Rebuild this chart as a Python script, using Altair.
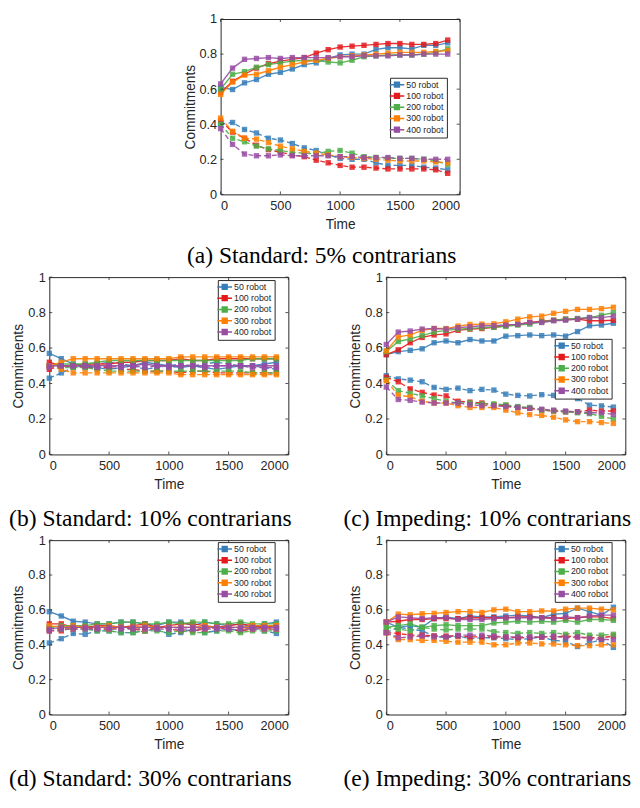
import altair as alt
import pandas as pd

TIME = [0, 100, 200, 300, 400, 500, 600, 700, 800, 900, 1000, 1100, 1200, 1300, 1400, 1500, 1600, 1700, 1800, 1900]
ROBOTS = ["50 robot", "100 robot", "200 robot", "300 robot", "400 robot"]
COLORS = ["#377eb8", "#e41a1c", "#4daf4a", "#ff7f00", "#984ea3"]
X_TICKS = [0, 500, 1000, 1500, 2000]
Y_TICKS = [0, 0.2, 0.4, 0.6, 0.8, 1]

# (a) Standard: 5% contrarians
A_UP_50 = [0.61, 0.598, 0.636, 0.655, 0.685, 0.696, 0.715, 0.74, 0.75, 0.775, 0.795, 0.80, 0.80, 0.827, 0.836, 0.836, 0.83, 0.85, 0.85, 0.864]
A_UP_100 = [0.58, 0.645, 0.685, 0.72, 0.745, 0.76, 0.77, 0.78, 0.805, 0.825, 0.84, 0.845, 0.85, 0.855, 0.86, 0.86, 0.855, 0.855, 0.86, 0.88]
A_UP_200 = [0.60, 0.685, 0.70, 0.725, 0.74, 0.75, 0.76, 0.765, 0.765, 0.755, 0.75, 0.765, 0.785, 0.79, 0.795, 0.795, 0.795, 0.80, 0.81, 0.83]
A_UP_300 = [0.57, 0.64, 0.68, 0.685, 0.705, 0.725, 0.74, 0.755, 0.765, 0.775, 0.785, 0.79, 0.795, 0.80, 0.805, 0.81, 0.81, 0.81, 0.815, 0.82]
A_UP_400 = [0.63, 0.72, 0.77, 0.775, 0.78, 0.775, 0.78, 0.78, 0.78, 0.78, 0.785, 0.785, 0.79, 0.79, 0.79, 0.795, 0.795, 0.80, 0.80, 0.80]
A_LO_50 = [0.40, 0.41, 0.37, 0.35, 0.32, 0.31, 0.29, 0.265, 0.25, 0.225, 0.205, 0.20, 0.20, 0.18, 0.165, 0.165, 0.165, 0.155, 0.15, 0.14]
A_LO_100 = [0.42, 0.355, 0.32, 0.28, 0.255, 0.24, 0.225, 0.215, 0.195, 0.18, 0.165, 0.155, 0.155, 0.15, 0.145, 0.145, 0.145, 0.145, 0.14, 0.12]
A_LO_200 = [0.40, 0.32, 0.30, 0.275, 0.26, 0.25, 0.24, 0.235, 0.23, 0.245, 0.25, 0.235, 0.215, 0.21, 0.205, 0.205, 0.205, 0.20, 0.19, 0.17]
A_LO_300 = [0.435, 0.36, 0.32, 0.315, 0.295, 0.275, 0.26, 0.245, 0.235, 0.225, 0.215, 0.21, 0.205, 0.20, 0.195, 0.19, 0.19, 0.19, 0.185, 0.18]
A_LO_400 = [0.375, 0.285, 0.23, 0.22, 0.22, 0.225, 0.22, 0.22, 0.22, 0.22, 0.215, 0.215, 0.21, 0.21, 0.21, 0.205, 0.205, 0.20, 0.20, 0.20]

# (b) Standard: 10% contrarians
B_UP_50 = [0.57, 0.54, 0.51, 0.50, 0.49, 0.48, 0.49, 0.50, 0.52, 0.51, 0.50, 0.49, 0.50, 0.49, 0.48, 0.49, 0.50, 0.50, 0.51, 0.52]
B_UP_100 = [0.52, 0.50, 0.50, 0.51, 0.51, 0.51, 0.52, 0.52, 0.53, 0.53, 0.53, 0.54, 0.53, 0.53, 0.54, 0.54, 0.54, 0.54, 0.54, 0.54]
B_UP_200 = [0.50, 0.51, 0.51, 0.51, 0.52, 0.53, 0.53, 0.53, 0.53, 0.53, 0.53, 0.53, 0.53, 0.53, 0.53, 0.53, 0.53, 0.54, 0.54, 0.54]
B_UP_300 = [0.50, 0.52, 0.54, 0.54, 0.54, 0.54, 0.54, 0.54, 0.54, 0.54, 0.54, 0.55, 0.55, 0.55, 0.55, 0.55, 0.55, 0.55, 0.55, 0.55]
B_UP_400 = [0.50, 0.50, 0.50, 0.50, 0.50, 0.50, 0.50, 0.50, 0.51, 0.50, 0.50, 0.50, 0.50, 0.50, 0.50, 0.50, 0.50, 0.50, 0.50, 0.50]
B_LO_50 = [0.43, 0.46, 0.49, 0.50, 0.51, 0.52, 0.51, 0.50, 0.48, 0.49, 0.50, 0.51, 0.50, 0.51, 0.52, 0.51, 0.50, 0.50, 0.49, 0.48]
B_LO_100 = [0.48, 0.50, 0.50, 0.49, 0.49, 0.49, 0.48, 0.48, 0.47, 0.47, 0.47, 0.46, 0.47, 0.47, 0.46, 0.46, 0.46, 0.46, 0.46, 0.46]
B_LO_200 = [0.50, 0.49, 0.49, 0.49, 0.48, 0.47, 0.47, 0.47, 0.47, 0.47, 0.47, 0.47, 0.47, 0.47, 0.47, 0.47, 0.47, 0.46, 0.46, 0.46]
B_LO_300 = [0.50, 0.48, 0.46, 0.46, 0.46, 0.46, 0.46, 0.46, 0.46, 0.46, 0.46, 0.45, 0.45, 0.45, 0.45, 0.45, 0.45, 0.45, 0.45, 0.45]
B_LO_400 = [0.49, 0.50, 0.50, 0.50, 0.49, 0.50, 0.49, 0.50, 0.49, 0.50, 0.49, 0.50, 0.50, 0.49, 0.50, 0.50, 0.50, 0.49, 0.49, 0.49]

# (c) Impeding: 10% contrarians
C_UP_50 = [0.563, 0.58, 0.587, 0.596, 0.63, 0.64, 0.63, 0.648, 0.64, 0.64, 0.667, 0.67, 0.674, 0.67, 0.674, 0.667, 0.693, 0.726, 0.73, 0.74]
C_UP_100 = [0.563, 0.59, 0.63, 0.66, 0.674, 0.68, 0.70, 0.707, 0.71, 0.717, 0.726, 0.735, 0.744, 0.752, 0.757, 0.763, 0.763, 0.754, 0.754, 0.757]
C_UP_200 = [0.58, 0.637, 0.652, 0.67, 0.69, 0.70, 0.707, 0.71, 0.715, 0.717, 0.722, 0.73, 0.735, 0.748, 0.757, 0.763, 0.767, 0.772, 0.785, 0.80]
C_UP_300 = [0.585, 0.663, 0.674, 0.70, 0.71, 0.71, 0.724, 0.733, 0.735, 0.737, 0.748, 0.763, 0.776, 0.78, 0.796, 0.807, 0.818, 0.818, 0.822, 0.83]
C_UP_400 = [0.62, 0.69, 0.696, 0.707, 0.71, 0.707, 0.715, 0.72, 0.726, 0.726, 0.73, 0.733, 0.744, 0.744, 0.754, 0.757, 0.763, 0.772, 0.772, 0.78]
C_LO_50 = [0.444, 0.426, 0.419, 0.41, 0.378, 0.367, 0.374, 0.36, 0.367, 0.363, 0.34, 0.333, 0.33, 0.337, 0.333, 0.34, 0.315, 0.278, 0.274, 0.267]
C_LO_100 = [0.435, 0.41, 0.37, 0.35, 0.335, 0.33, 0.30, 0.295, 0.29, 0.28, 0.275, 0.265, 0.26, 0.25, 0.245, 0.24, 0.24, 0.25, 0.245, 0.245]
C_LO_200 = [0.42, 0.36, 0.345, 0.33, 0.315, 0.30, 0.29, 0.29, 0.285, 0.285, 0.28, 0.27, 0.265, 0.25, 0.245, 0.24, 0.235, 0.23, 0.215, 0.20]
C_LO_300 = [0.415, 0.335, 0.325, 0.30, 0.29, 0.29, 0.275, 0.265, 0.265, 0.265, 0.25, 0.235, 0.225, 0.22, 0.21, 0.195, 0.185, 0.185, 0.18, 0.175]
C_LO_400 = [0.38, 0.31, 0.305, 0.295, 0.29, 0.29, 0.29, 0.28, 0.275, 0.275, 0.27, 0.265, 0.26, 0.255, 0.25, 0.245, 0.24, 0.235, 0.235, 0.225]

# (d) Standard: 30% contrarians
D_UP_50 = [0.59, 0.565, 0.535, 0.53, 0.52, 0.52, 0.53, 0.53, 0.52, 0.51, 0.53, 0.53, 0.51, 0.53, 0.52, 0.51, 0.52, 0.50, 0.52, 0.53]
D_UP_100 = [0.52, 0.52, 0.50, 0.50, 0.51, 0.51, 0.50, 0.51, 0.52, 0.50, 0.51, 0.52, 0.52, 0.51, 0.50, 0.51, 0.52, 0.51, 0.50, 0.51]
D_UP_200 = [0.50, 0.51, 0.51, 0.51, 0.52, 0.52, 0.53, 0.53, 0.52, 0.52, 0.53, 0.52, 0.53, 0.53, 0.52, 0.52, 0.53, 0.52, 0.52, 0.52]
D_UP_300 = [0.51, 0.50, 0.51, 0.50, 0.50, 0.51, 0.50, 0.50, 0.51, 0.50, 0.50, 0.50, 0.50, 0.51, 0.50, 0.50, 0.50, 0.51, 0.51, 0.51]
D_UP_400 = [0.49, 0.50, 0.50, 0.50, 0.50, 0.50, 0.50, 0.50, 0.50, 0.50, 0.50, 0.50, 0.50, 0.50, 0.50, 0.50, 0.50, 0.50, 0.50, 0.50]
D_LO_50 = [0.41, 0.435, 0.465, 0.46, 0.48, 0.48, 0.47, 0.47, 0.48, 0.49, 0.46, 0.47, 0.49, 0.47, 0.48, 0.49, 0.48, 0.50, 0.48, 0.465]
D_LO_100 = [0.48, 0.48, 0.50, 0.50, 0.49, 0.49, 0.50, 0.49, 0.48, 0.50, 0.49, 0.48, 0.48, 0.49, 0.50, 0.49, 0.48, 0.49, 0.50, 0.49]
D_LO_200 = [0.50, 0.49, 0.49, 0.49, 0.48, 0.48, 0.47, 0.47, 0.48, 0.48, 0.47, 0.48, 0.47, 0.47, 0.48, 0.48, 0.47, 0.48, 0.48, 0.48]
D_LO_300 = [0.49, 0.50, 0.49, 0.50, 0.50, 0.49, 0.50, 0.50, 0.49, 0.50, 0.50, 0.50, 0.50, 0.49, 0.50, 0.50, 0.50, 0.49, 0.49, 0.49]
D_LO_400 = [0.48, 0.49, 0.49, 0.49, 0.49, 0.49, 0.49, 0.49, 0.49, 0.49, 0.49, 0.49, 0.49, 0.49, 0.49, 0.49, 0.49, 0.49, 0.49, 0.49]

# (e) Impeding: 30% contrarians
E_UP_50 = [0.53, 0.50, 0.51, 0.50, 0.55, 0.56, 0.55, 0.565, 0.56, 0.56, 0.565, 0.57, 0.565, 0.555, 0.575, 0.58, 0.61, 0.59, 0.57, 0.615]
E_UP_100 = [0.53, 0.535, 0.545, 0.545, 0.55, 0.55, 0.55, 0.555, 0.555, 0.555, 0.555, 0.56, 0.56, 0.555, 0.555, 0.55, 0.555, 0.56, 0.56, 0.55]
E_UP_200 = [0.50, 0.51, 0.52, 0.50, 0.51, 0.515, 0.51, 0.51, 0.51, 0.525, 0.53, 0.535, 0.53, 0.535, 0.53, 0.54, 0.53, 0.545, 0.545, 0.54]
E_UP_300 = [0.53, 0.576, 0.572, 0.578, 0.58, 0.585, 0.59, 0.59, 0.585, 0.60, 0.604, 0.59, 0.59, 0.594, 0.594, 0.604, 0.61, 0.61, 0.604, 0.60]
E_UP_400 = [0.53, 0.56, 0.555, 0.55, 0.555, 0.555, 0.545, 0.545, 0.545, 0.55, 0.555, 0.555, 0.555, 0.555, 0.55, 0.56, 0.555, 0.565, 0.57, 0.57]
E_LO_50 = [0.47, 0.50, 0.49, 0.48, 0.45, 0.44, 0.45, 0.435, 0.44, 0.44, 0.435, 0.43, 0.435, 0.445, 0.425, 0.42, 0.39, 0.41, 0.43, 0.385]
E_LO_100 = [0.47, 0.465, 0.455, 0.455, 0.45, 0.45, 0.45, 0.445, 0.445, 0.445, 0.445, 0.44, 0.44, 0.445, 0.445, 0.45, 0.445, 0.44, 0.44, 0.45]
E_LO_200 = [0.50, 0.49, 0.48, 0.50, 0.49, 0.485, 0.49, 0.49, 0.49, 0.475, 0.47, 0.465, 0.47, 0.465, 0.47, 0.46, 0.47, 0.455, 0.455, 0.46]
E_LO_300 = [0.47, 0.43, 0.43, 0.425, 0.425, 0.42, 0.415, 0.415, 0.415, 0.40, 0.40, 0.41, 0.41, 0.405, 0.405, 0.40, 0.395, 0.395, 0.40, 0.40]
E_LO_400 = [0.47, 0.44, 0.445, 0.45, 0.445, 0.445, 0.455, 0.455, 0.455, 0.45, 0.445, 0.445, 0.445, 0.445, 0.45, 0.44, 0.445, 0.435, 0.43, 0.43]

W = 244
LEGEND_SYMBOL = "M-2.14,0H2.14M-0.71,-0.71H0.71V-0.24H-0.71V0.24H0.71V0.71H-0.71Z"
AX_COLOR = "#262626"


def panel(up, lo, caption, lx, ly, H, cap_offset):
    rows = []
    for r, u, l in zip(ROBOTS, up, lo):
        for t, vu, vl in zip(TIME, u, l):
            rows.append({"t": t, "robot": r, "v": vu, "kind": "up"})
            rows.append({"t": t, "robot": r, "v": vl, "kind": "lo"})
    df = pd.DataFrame(rows)
    xs = alt.Scale(domain=[0, 2000], nice=False)
    ys = alt.Scale(domain=[0, 1], nice=False)
    xaxis = alt.Axis(values=X_TICKS, title="Time", format="d", labelOverlap=False)
    yaxis = alt.Axis(values=Y_TICKS, title="Commitments", format="~g", labelOverlap=False)
    x = alt.X("t:Q", scale=xs, axis=xaxis)
    y = alt.Y("v:Q", scale=ys, axis=yaxis)
    cscale = alt.Scale(domain=ROBOTS, range=COLORS)
    legend = alt.Legend(
        title=None, orient="none", legendX=lx, legendY=ly,
        symbolType=LEGEND_SYMBOL, symbolSize=49, symbolStrokeWidth=1.5,
        labelFont="Liberation Sans", labelFontSize=9, labelColor=AX_COLOR,
        strokeColor=AX_COLOR, fillColor="white", padding=2.5,
        rowPadding=0.5, labelOffset=5, symbolOpacity=1,
    )
    color = alt.Color("robot:N", scale=cscale, legend=legend)
    base = alt.Chart(df)
    lo_lines = base.transform_filter(alt.datum.kind == "lo").mark_line(
        strokeWidth=1.4, strokeDash=[5, 3], opacity=0.9
    ).encode(x=x, y=y, color=color, detail="robot:N")
    up_lines = base.transform_filter(alt.datum.kind == "up").mark_line(
        strokeWidth=1.4, opacity=0.9
    ).encode(x=x, y=y, color=color, detail="robot:N")
    pts = base.mark_point(shape="square", filled=True, size=30, opacity=0.85).encode(
        x=x, y=y, color=color
    )
    xt = pd.DataFrame({"t": X_TICKS})
    yt = pd.DataFrame({"v": Y_TICKS})
    tick_b = alt.Chart(xt).mark_rule(color=AX_COLOR, strokeWidth=0.8).encode(
        x=x, y=alt.value(H), y2=alt.value(H - 3))
    tick_t = alt.Chart(xt).mark_rule(color=AX_COLOR, strokeWidth=0.8).encode(
        x=x, y=alt.value(0), y2=alt.value(3))
    tick_l = alt.Chart(yt).mark_rule(color=AX_COLOR, strokeWidth=0.8).encode(
        y=y, x=alt.value(0), x2=alt.value(3))
    tick_r = alt.Chart(yt).mark_rule(color=AX_COLOR, strokeWidth=0.8).encode(
        y=y, x=alt.value(W), x2=alt.value(W - 3))
    return alt.layer(lo_lines, up_lines, pts, tick_b, tick_t, tick_l, tick_r).properties(
        width=W, height=H,
        title=alt.TitleParams(
            caption, orient="bottom", font="Liberation Serif", fontSize=24,
            fontWeight="normal", color="black", offset=cap_offset, anchor="middle",
            frame="bounds",
        ),
    )


pa = panel([A_UP_50, A_UP_100, A_UP_200, A_UP_300, A_UP_400],
           [A_LO_50, A_LO_100, A_LO_200, A_LO_300, A_LO_400],
           "(a) Standard: 5% contrarians", 173, 60, 179, 13.5)
pb = panel([B_UP_50, B_UP_100, B_UP_200, B_UP_300, B_UP_400],
           [B_LO_50, B_LO_100, B_LO_200, B_LO_300, B_LO_400],
           "(b) Standard: 10% contrarians", 172, 3, 181, 16.5)
pc = panel([C_UP_50, C_UP_100, C_UP_200, C_UP_300, C_UP_400],
           [C_LO_50, C_LO_100, C_LO_200, C_LO_300, C_LO_400],
           "(c) Impeding: 10% contrarians", 172, 63, 181, 16.5)
pd_ = panel([D_UP_50, D_UP_100, D_UP_200, D_UP_300, D_UP_400],
            [D_LO_50, D_LO_100, D_LO_200, D_LO_300, D_LO_400],
            "(d) Standard: 30% contrarians", 172, 2, 178, 15.5)
pe = panel([E_UP_50, E_UP_100, E_UP_200, E_UP_300, E_UP_400],
           [E_LO_50, E_LO_100, E_LO_200, E_LO_300, E_LO_400],
           "(e) Impeding: 30% contrarians", 172, 2, 178, 15.5)

row2 = alt.hconcat(pb, pc, spacing=51).resolve_scale(color="independent")
row3 = alt.hconcat(pd_, pe, spacing=51).resolve_scale(color="independent")

chart = alt.vconcat(pa, row2, row3, spacing=1.5, center=True).resolve_scale(
    color="independent"
).properties(padding={"left": 0, "top": -4, "right": 0, "bottom": 0}).configure_view(
    stroke=AX_COLOR, strokeWidth=1
).configure_axis(
    domain=False, ticks=False, grid=False,
    labelFont="Liberation Sans", labelFontSize=13, labelColor=AX_COLOR,
    titleFont="Liberation Sans", titleFontSize=14, titleFontWeight="normal",
    titleColor=AX_COLOR,
).configure_axisX(
    labelPadding=5, titlePadding=6,
).configure_axisY(
    labelPadding=4, titlePadding=2,
).configure_legend(cornerRadius=0)

chart.save("out.html", embed_options={"renderer": "svg", "actions": False})
